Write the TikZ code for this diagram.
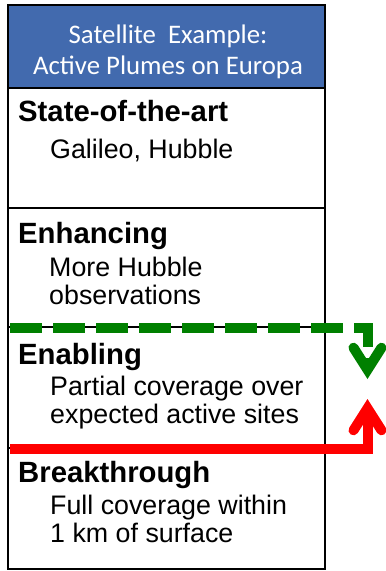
\documentclass[tikz,border=0pt]{standalone}
\usepackage{fontspec}
\setmainfont{Liberation Sans}
\newfontfamily\calfont{Carlito}
\usetikzlibrary{arrows.meta}
\definecolor{hdrblue}{RGB}{66,106,174}
\definecolor{plumegreen}{RGB}{0,128,0}
\definecolor{plumered}{RGB}{255,0,0}
\tikzset{
  panel/.style={draw=black, line width=2.2pt, minimum width=317pt, inner sep=0pt},
  hdr/.style={fill=hdrblue, draw=black, line width=2.6pt, minimum width=317pt, minimum height=83pt, inner sep=0pt},
  hdrtext/.style={text=white, align=center, inner sep=0pt, font=\calfont\fontsize{26.8}{31}\selectfont},
  level/.style={anchor=base west, inner sep=0pt, font=\bfseries\fontsize{29.3}{34}\selectfont},
  detail/.style={anchor=base west, inner sep=0pt, align=left, font=\fontsize{26.8}{28}\selectfont},
  jump/.style={line width=10pt, line join=miter,
    -{Straight Barb[length=22pt, width=28pt, line cap=round, line join=miter]}},
}
\begin{document}
\begin{tikzpicture}[x=1pt,y=-1pt]
\useasboundingbox (0,0) rectangle (386,571);
% the four levels
\node [panel, minimum height=120pt] (soaBox) at (166.5,148) {};
\node [panel, minimum height=119pt] (enhBox) at (166.5,267.5) {};
\node [panel, minimum height=121pt] (enaBox) at (166.5,387.5) {};
\node [panel, minimum height=121pt] (brkBox) at (166.5,508.5) {};
% header
\node [hdr] (head) at (166.5,46.5) {};
\node [hdrtext] (title) at (168,51.5) {Satellite\ \ Example:\\Active Plumes on Europa};
% texts (multi-line nodes sit on their last baseline)
\node [level] (soa) at (18,121) {State-of-the-art};
\node [detail] (soaTxt) at (50,158) {Galileo, Hubble};
\node [level] (enh) at (18,243) {Enhancing};
\node [detail] (enhTxt) at (49,304) {More Hubble\\observations};
\node [level] (ena) at (18,364) {Enabling};
\node [detail] (enaTxt) at (50,423) {Partial coverage over\\expected active sites};
\node [level] (brk) at (18,482) {Breakthrough};
\node [detail] (brkTxt) at (50,542) {Full coverage within\\1 km of surface};
% arrows
\coordinate (gStart) at (10,328);
\coordinate (gTurn) at (367.5,328);
\coordinate (gTip) at (367.5,379);
\draw [jump, draw=plumegreen, dash pattern=on 32pt off 11pt] (gStart) -- (gTurn) -- (gTip);
\coordinate (rStart) at (10,448.5);
\coordinate (rTurn) at (367.5,448.5);
\coordinate (rTip) at (367.5,399);
\draw [jump, draw=plumered] (rStart) -- (rTurn) -- (rTip);
\end{tikzpicture}
\end{document}
